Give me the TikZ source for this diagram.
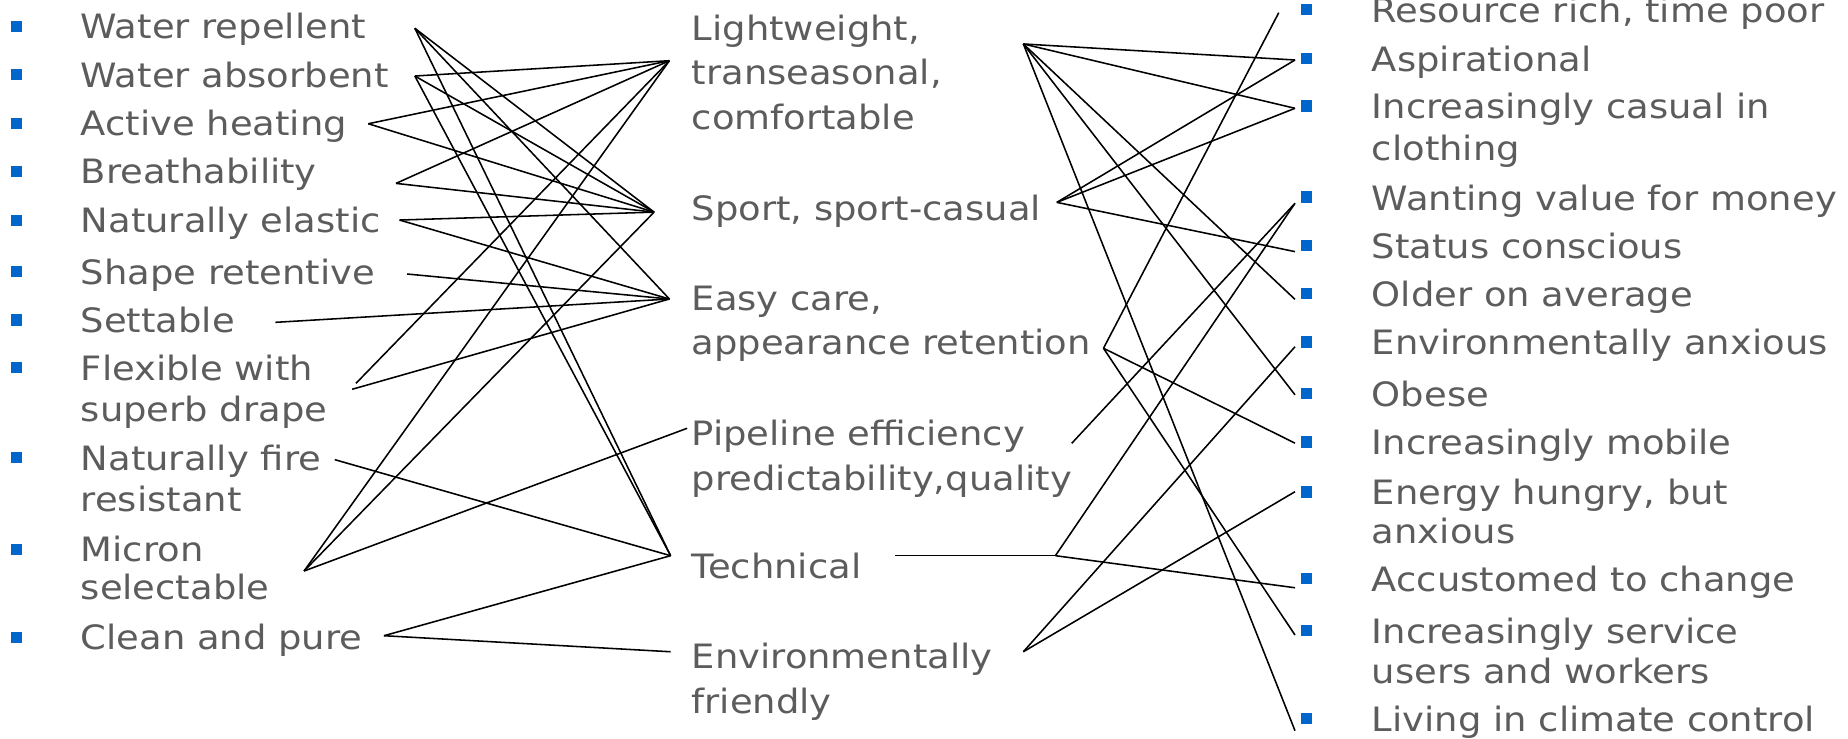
\documentclass[tikz,border=0pt]{standalone}
\usepackage{fontspec}
\setmainfont{DejaVu Sans}[FakeStretch=1.1]
\usepackage{xcolor}
\definecolor{txtgray}{RGB}{92,92,92}
\definecolor{bulletblue}{RGB}{0,102,204}
\tikzset{
  item/.style={anchor=base west, align=left, text=txtgray, font=\fontsize{16.2}{20}\selectfont},
  miditem/.style={item, font=\fontsize{16.2}{21.6}\selectfont},
  bullet/.style={fill=bulletblue, minimum size=5.4pt},
  link/.style={black, line width=0.75pt}
}
\begin{document}
\begin{tikzpicture}[scale=0.2]
 	\tikzstyle{every node}+=[inner sep=0pt]
 	\useasboundingbox (0,0) rectangle (156.8,-62.7);
 	\clip (0,0) rectangle (156.8,-62.7);
 	% fibre properties (multi-line texts sit on their last line)
 	\node [item] (wrep) at (6.82,-3.3) {Water repellent};
 	\node [item] (wabs) at (6.82,-7.4) {Water absorbent};
 	\node [item] (aheat) at (6.82,-11.5) {Active heating};
 	\node [item] (breath) at (6.82,-15.6) {Breathability};
 	\node [item] (elast) at (6.82,-19.75) {Naturally elastic};
 	\node [item] (shape) at (6.82,-24.1) {Shape retentive};
 	\node [item] (sett) at (6.82,-28.2) {Settable};
 	\node [item] (flex) at (6.82,-35.8) {Flexible with\\superb drape};
 	\node [item] (fire) at (6.82,-43.4) {Naturally fire\\resistant};
 	\node [item] (micron) at (6.82,-50.9) {Micron\\[-1.5pt]selectable};
 	\node [item] (clean) at (6.82,-55.15) {Clean and pure};
 	\node [bullet] (bl1) at (1.38,-2.25) {};
 	\node [bullet] (bl2) at (1.38,-6.35) {};
 	\node [bullet] (bl3) at (1.38,-10.45) {};
 	\node [bullet] (bl4) at (1.38,-14.55) {};
 	\node [bullet] (bl5) at (1.38,-18.7) {};
 	\node [bullet] (bl6) at (1.38,-23.05) {};
 	\node [bullet] (bl7) at (1.38,-27.15) {};
 	\node [bullet] (bl8) at (1.38,-31.15) {};
 	\node [bullet] (bl9) at (1.38,-38.85) {};
 	\node [bullet] (bl10) at (1.38,-46.6) {};
 	\node [bullet] (bl11) at (1.38,-54.1) {};
 	% end uses
 	\node [miditem] (lw) at (58.66,-11.0) {Lightweight,\\transeasonal,\\comfortable};
 	\node [miditem] (sport) at (58.66,-18.7) {Sport, sport-casual};
 	\node [miditem] (easy) at (58.66,-30.1) {Easy care,\\appearance retention};
 	\node [miditem] (pipe) at (58.66,-41.6) {Pipeline efficiency\\predictability,quality};
 	\node [miditem] (tech) at (58.66,-49.07) {Technical};
 	\node [miditem] (env) at (58.66,-60.5) {Environmentally\\friendly};
 	% consumer traits
 	\node [item] (res) at (116.37,-1.92) {Resource rich, time poor};
 	\node [item] (asp) at (116.37,-6.08) {Aspirational};
 	\node [item] (cas) at (116.37,-13.6) {Increasingly casual in\\clothing};
 	\node [item] (val) at (116.37,-17.82) {Wanting value for money};
 	\node [item] (sta) at (116.37,-21.92) {Status conscious};
 	\node [item] (old) at (116.37,-26.02) {Older on average};
 	\node [item] (envx) at (116.37,-30.12) {Environmentally anxious};
 	\node [item] (obe) at (116.37,-34.5) {Obese};
 	\node [item] (mob) at (116.37,-38.6) {Increasingly mobile};
 	\node [item] (ene) at (116.37,-46.1) {Energy hungry, but\\[-1.2pt]anxious};
 	\node [item] (acc) at (116.37,-50.2) {Accustomed to change};
 	\node [item] (ser) at (116.37,-57.98) {Increasingly service\\[-0.6pt]users and workers};
 	\node [item] (liv) at (116.37,-62.08) {Living in climate control};
 	\node [bullet] (br1) at (110.85,-0.82) {};
 	\node [bullet] (br2) at (110.85,-4.98) {};
 	\node [bullet] (br3) at (110.85,-9.0) {};
 	\node [bullet] (br4) at (110.85,-16.72) {};
 	\node [bullet] (br5) at (110.85,-20.82) {};
 	\node [bullet] (br6) at (110.85,-24.92) {};
 	\node [bullet] (br7) at (110.85,-29.02) {};
 	\node [bullet] (br8) at (110.85,-33.4) {};
 	\node [bullet] (br9) at (110.85,-37.5) {};
 	\node [bullet] (br10) at (110.85,-41.75) {};
 	\node [bullet] (br11) at (110.85,-49.1) {};
 	\node [bullet] (br12) at (110.85,-53.48) {};
 	\node [bullet] (br13) at (110.85,-60.98) {};
 	% line ends
 	\coordinate (pwrep) at (35.2,-2.4);
 	\coordinate (pwabs) at (35.2,-6.45);
 	\coordinate (paheat) at (31.25,-10.5);
 	\coordinate (pbreath) at (33.6,-15.56);
 	\coordinate (pelast) at (33.9,-18.67);
 	\coordinate (pshape) at (34.55,-23.25);
 	\coordinate (psett) at (23.37,-27.35);
 	\coordinate (pflexa) at (30.2,-32.53);
 	\coordinate (pflexb) at (29.88,-33.03);
 	\coordinate (pfire) at (28.4,-39.0);
 	\coordinate (pmicron) at (25.8,-48.45);
 	\coordinate (pclean) at (32.58,-53.94);
 	\coordinate (plwL) at (56.8,-5.15);
 	\coordinate (pspL) at (55.5,-18.0);
 	\coordinate (pecL) at (56.8,-25.37);
 	\coordinate (pplL) at (58.3,-36.34);
 	\coordinate (pteL) at (56.9,-47.15);
 	\coordinate (penL) at (56.9,-55.3);
 	\coordinate (plwR) at (86.83,-3.73);
 	\coordinate (pspR) at (89.67,-17.17);
 	\coordinate (pecR) at (93.63,-29.55);
 	\coordinate (pplR) at (90.93,-37.62);
 	\coordinate (pteR) at (75.94,-47.15);
 	\coordinate (ptejoin) at (89.55,-47.15);
 	\coordinate (penR) at (86.83,-55.3);
 	\coordinate (pres) at (108.5,-1.08);
 	\coordinate (pasp) at (109.88,-5.09);
 	\coordinate (pcas) at (109.88,-9.19);
 	\coordinate (pval) at (109.88,-17.25);
 	\coordinate (psta) at (109.88,-21.35);
 	\coordinate (pold) at (109.88,-25.4);
 	\coordinate (penv) at (109.88,-29.42);
 	\coordinate (pobe) at (109.88,-33.5);
 	\coordinate (pmob) at (109.88,-37.6);
 	\coordinate (pene) at (109.88,-41.72);
 	\coordinate (pacc) at (109.88,-49.87);
 	\coordinate (pser) at (109.88,-53.88);
 	\coordinate (pliv) at (109.88,-62.0);
 	% properties to end uses
 	\draw [link] (pwrep) -- (pspL);
 	\draw [link] (pwrep) -- (pecL);
 	\draw [link] (pwrep) -- (pteL);
 	\draw [link] (pwabs) -- (plwL);
 	\draw [link] (pwabs) -- (pspL);
 	\draw [link] (pwabs) -- (pteL);
 	\draw [link] (paheat) -- (plwL);
 	\draw [link] (paheat) -- (pspL);
 	\draw [link] (pbreath) -- (plwL);
 	\draw [link] (pbreath) -- (pspL);
 	\draw [link] (pelast) -- (pspL);
 	\draw [link] (pelast) -- (pecL);
 	\draw [link] (pshape) -- (pecL);
 	\draw [link] (psett) -- (pecL);
 	\draw [link] (pflexa) -- (plwL);
 	\draw [link] (pflexb) -- (pecL);
 	\draw [link] (pfire) -- (pteL);
 	\draw [link] (pmicron) -- (plwL);
 	\draw [link] (pmicron) -- (pspL);
 	\draw [link] (pmicron) -- (pplL);
 	\draw [link] (pclean) -- (pteL);
 	\draw [link] (pclean) -- (penL);
 	% end uses to consumers
 	\draw [link] (plwR) -- (pasp);
 	\draw [link] (plwR) -- (pcas);
 	\draw [link] (plwR) -- (pold);
 	\draw [link] (plwR) -- (pobe);
 	\draw [link] (plwR) -- (pliv);
 	\draw [link] (pspR) -- (pasp);
 	\draw [link] (pspR) -- (pcas);
 	\draw [link] (pspR) -- (psta);
 	\draw [link] (pecR) -- (pres);
 	\draw [link] (pecR) -- (pmob);
 	\draw [link] (pecR) -- (pser);
 	\draw [link] (pplR) -- (pval);
 	\draw [link] (pteR) -- (ptejoin);
 	\draw [link] (ptejoin) -- (pval);
 	\draw [link] (ptejoin) -- (pacc);
 	\draw [link] (penR) -- (penv);
 	\draw [link] (penR) -- (pene);
\end{tikzpicture}
\end{document}
